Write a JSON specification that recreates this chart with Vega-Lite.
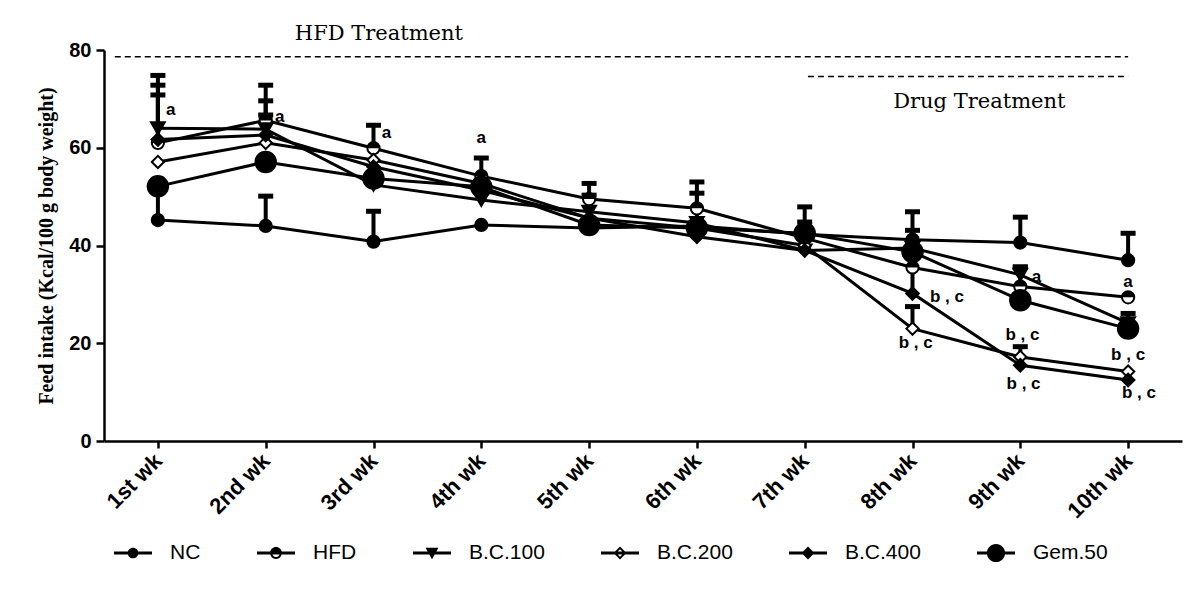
{
  "$schema": "https://vega.github.io/schema/vega-lite/v6.json",
  "autosize": {"type": "none"},
  "width": 1078,
  "height": 391,
  "padding": {"left": 104, "top": 50, "right": 18, "bottom": 150},
  "background": "white",
  "config": {
    "view": {"stroke": null},
    "axis": {"grid": false, "domainColor": "black", "tickColor": "black", "domainWidth": 2.5, "tickWidth": 2.5, "labelColor": "black", "titleColor": "black"}
  },
  "datasets": {
    "main": [
      {"week": 1, "group": "NC", "value": 45.2, "upper": 52.0},
      {"week": 2, "group": "NC", "value": 44.0, "upper": 50.1},
      {"week": 3, "group": "NC", "value": 40.8, "upper": 47.0},
      {"week": 4, "group": "NC", "value": 44.2, "upper": null},
      {"week": 5, "group": "NC", "value": 43.6, "upper": null},
      {"week": 6, "group": "NC", "value": 44.0, "upper": null},
      {"week": 7, "group": "NC", "value": 42.3, "upper": null},
      {"week": 8, "group": "NC", "value": 41.2, "upper": null},
      {"week": 9, "group": "NC", "value": 40.6, "upper": 45.8},
      {"week": 10, "group": "NC", "value": 37.0, "upper": 42.5},
      {"week": 1, "group": "HFD", "value": 61.0, "upper": 72.8},
      {"week": 2, "group": "HFD", "value": 65.6, "upper": 72.8},
      {"week": 3, "group": "HFD", "value": 59.9, "upper": 64.6},
      {"week": 4, "group": "HFD", "value": 54.2, "upper": 57.9},
      {"week": 5, "group": "HFD", "value": 49.5, "upper": 52.7},
      {"week": 6, "group": "HFD", "value": 47.6, "upper": 53.0},
      {"week": 7, "group": "HFD", "value": 41.5, "upper": 44.8},
      {"week": 8, "group": "HFD", "value": 35.5, "upper": null},
      {"week": 9, "group": "HFD", "value": 31.6, "upper": 35.6},
      {"week": 10, "group": "HFD", "value": 29.4, "upper": null},
      {"week": 1, "group": "B.C.100", "value": 64.0, "upper": 74.8},
      {"week": 2, "group": "B.C.100", "value": 63.8, "upper": 69.6},
      {"week": 3, "group": "B.C.100", "value": 52.4, "upper": null},
      {"week": 4, "group": "B.C.100", "value": 49.3, "upper": null},
      {"week": 5, "group": "B.C.100", "value": 46.9, "upper": 50.3},
      {"week": 6, "group": "B.C.100", "value": 44.6, "upper": 50.7},
      {"week": 7, "group": "B.C.100", "value": 39.0, "upper": null},
      {"week": 8, "group": "B.C.100", "value": 39.5, "upper": 46.9},
      {"week": 9, "group": "B.C.100", "value": 34.0, "upper": 35.6},
      {"week": 10, "group": "B.C.100", "value": 24.1, "upper": 26.1},
      {"week": 1, "group": "B.C.200", "value": 57.1, "upper": null},
      {"week": 2, "group": "B.C.200", "value": 61.0, "upper": null},
      {"week": 3, "group": "B.C.200", "value": 57.5, "upper": null},
      {"week": 4, "group": "B.C.200", "value": 52.7, "upper": null},
      {"week": 5, "group": "B.C.200", "value": 45.6, "upper": null},
      {"week": 6, "group": "B.C.200", "value": 43.6, "upper": null},
      {"week": 7, "group": "B.C.200", "value": 40.0, "upper": null},
      {"week": 8, "group": "B.C.200", "value": 23.0, "upper": 27.5},
      {"week": 9, "group": "B.C.200", "value": 17.2, "upper": 19.3},
      {"week": 10, "group": "B.C.200", "value": 14.2, "upper": null},
      {"week": 1, "group": "B.C.400", "value": 61.7, "upper": 70.8},
      {"week": 2, "group": "B.C.400", "value": 62.6, "upper": 66.7},
      {"week": 3, "group": "B.C.400", "value": 56.1, "upper": null},
      {"week": 4, "group": "B.C.400", "value": 51.3, "upper": null},
      {"week": 5, "group": "B.C.400", "value": 45.6, "upper": null},
      {"week": 6, "group": "B.C.400", "value": 41.8, "upper": null},
      {"week": 7, "group": "B.C.400", "value": 39.0, "upper": null},
      {"week": 8, "group": "B.C.400", "value": 30.2, "upper": 38.5},
      {"week": 9, "group": "B.C.400", "value": 15.5, "upper": null},
      {"week": 10, "group": "B.C.400", "value": 12.5, "upper": null},
      {"week": 1, "group": "Gem.50", "value": 52.1, "upper": null},
      {"week": 2, "group": "Gem.50", "value": 57.1, "upper": null},
      {"week": 3, "group": "Gem.50", "value": 53.7, "upper": null},
      {"week": 4, "group": "Gem.50", "value": 52.0, "upper": null},
      {"week": 5, "group": "Gem.50", "value": 44.2, "upper": null},
      {"week": 6, "group": "Gem.50", "value": 43.6, "upper": null},
      {"week": 7, "group": "Gem.50", "value": 42.5, "upper": 47.9},
      {"week": 8, "group": "Gem.50", "value": 38.7, "upper": 43.1},
      {"week": 9, "group": "Gem.50", "value": 28.8, "upper": null},
      {"week": 10, "group": "Gem.50", "value": 23.0, "upper": null}
    ],
    "notes": [
      {"x": 1.12, "y": 67.7, "label": "a"},
      {"x": 2.13, "y": 66.3, "label": "a"},
      {"x": 3.12, "y": 63.0, "label": "a"},
      {"x": 4.0, "y": 62.0, "label": "a"},
      {"x": 9.15, "y": 33.6, "label": "a"},
      {"x": 10.0, "y": 32.6, "label": "a"},
      {"x": 8.32, "y": 29.4, "label": "b , c"},
      {"x": 8.03, "y": 20.1, "label": "b , c"},
      {"x": 9.02, "y": 21.7, "label": "b , c"},
      {"x": 9.03, "y": 11.6, "label": "b , c"},
      {"x": 10.0, "y": 17.6, "label": "b , c"},
      {"x": 10.1, "y": 9.8, "label": "b , c"}
    ],
    "dash": [
      {"x": 0.6, "x2": 10.0, "y": 78.6},
      {"x": 7.03, "x2": 10.0, "y": 74.6}
    ],
    "titles": [
      {"x": 3.05, "y": 83.2, "label": "HFD Treatment"},
      {"x": 8.62, "y": 69.3, "label": "Drug Treatment"}
    ]
  },
  "layer": [
    {
      "data": {"name": "dash"},
      "mark": {"type": "rule", "strokeDash": [6, 4], "strokeWidth": 1.5, "color": "black"},
      "encoding": {
        "x": {"field": "x", "type": "quantitative", "scale": {"domain": [0.5, 10.5], "nice": false, "zero": false}},
        "x2": {"field": "x2"},
        "y": {"field": "y", "type": "quantitative"}
      }
    },
    {
      "data": {"name": "titles"},
      "mark": {"type": "text", "font": "DejaVu Serif", "fontSize": 21, "color": "black", "align": "center", "baseline": "middle"},
      "encoding": {
        "x": {"field": "x", "type": "quantitative"},
        "y": {"field": "y", "type": "quantitative"},
        "text": {"field": "label"}
      }
    },
    {
      "data": {"name": "main"},
      "mark": {"type": "line", "color": "black", "strokeWidth": 3},
      "encoding": {
        "x": {"field": "week", "type": "quantitative", "scale": {"domain": [0.5, 10.5], "nice": false, "zero": false},
          "axis": {"title": null, "values": [1,2,3,4,5,6,7,8,9,10], "labelExpr": "['','1st wk','2nd wk','3rd wk','4th wk','5th wk','6th wk','7th wk','8th wk','9th wk','10th wk'][datum.value]", "labelAngle": -45, "labelAlign": "right", "labelBaseline": "middle", "labelFont": "Liberation Sans", "labelFontSize": 22, "labelFontWeight": "bold", "tickSize": 7, "labelPadding": 9}},
        "y": {"field": "value", "type": "quantitative", "scale": {"domain": [0, 80], "nice": false},
          "axis": {"title": "Feed intake (Kcal/100 g body weight)", "values": [0, 20, 40, 60, 80], "titleFont": "Liberation Serif", "titleFontSize": 20, "titleFontWeight": "bold", "titlePadding": 12, "labelFont": "Liberation Sans", "labelFontSize": 20, "labelFontWeight": "bold", "tickSize": 8, "labelPadding": 5}},
        "detail": {"field": "group"}
      }
    },
    {
      "data": {"name": "main"},
      "transform": [{"filter": "datum.upper != null"}],
      "mark": {"type": "rule", "color": "black", "strokeWidth": 4},
      "encoding": {
        "x": {"field": "week", "type": "quantitative"},
        "y": {"field": "value", "type": "quantitative"},
        "y2": {"field": "upper"}
      }
    },
    {
      "data": {"name": "main"},
      "transform": [{"filter": "datum.upper != null"}],
      "mark": {"type": "tick", "color": "black", "orient": "horizontal", "size": 15, "thickness": 5, "opacity": 1},
      "encoding": {
        "x": {"field": "week", "type": "quantitative"},
        "y": {"field": "upper", "type": "quantitative"}
      }
    },
    {
      "data": {"name": "main"},
      "mark": {"type": "point", "stroke": "black", "strokeWidth": 2, "opacity": 1},
      "encoding": {
        "x": {"field": "week", "type": "quantitative"},
        "y": {"field": "value", "type": "quantitative"},
        "shape": {"field": "group", "type": "nominal", "legend": null,
          "scale": {"domain": ["NC", "HFD", "B.C.100", "B.C.200", "B.C.400", "Gem.50"], "range": ["circle", "circle", "triangle-down", "diamond", "diamond", "circle"]}},
        "size": {"field": "group", "type": "nominal", "legend": null,
          "scale": {"type": "ordinal", "domain": ["NC", "HFD", "B.C.100", "B.C.200", "B.C.400", "Gem.50"], "range": [150, 150, 190, 150, 160, 420]}},
        "fill": {"field": "group", "type": "nominal", "legend": null,
          "scale": {"domain": ["NC", "HFD", "B.C.100", "B.C.200", "B.C.400", "Gem.50"], "range": ["black", "white", "black", "white", "black", "black"]}}
      }
    },
    {
      "data": {"name": "main"},
      "transform": [{"filter": "datum.group == 'HFD'"}],
      "mark": {"type": "point", "shape": "M-1,0A1,1 0 0 1 1,0Z", "size": 150, "filled": true, "color": "black", "opacity": 1},
      "encoding": {
        "x": {"field": "week", "type": "quantitative"},
        "y": {"field": "value", "type": "quantitative"}
      }
    },
    {
      "data": {"name": "notes"},
      "mark": {"type": "text", "font": "Liberation Sans", "fontSize": 17, "fontWeight": "bold", "color": "black", "align": "center", "baseline": "middle"},
      "encoding": {
        "x": {"field": "x", "type": "quantitative"},
        "y": {"field": "y", "type": "quantitative"},
        "text": {"field": "label"}
      }
    },
    {
      "data": {"name": "main"},
      "mark": {"type": "point", "filled": true, "color": "black", "opacity": 0},
      "encoding": {
        "x": {"field": "week", "type": "quantitative"},
        "y": {"field": "value", "type": "quantitative"},
        "shape": {"field": "group", "type": "nominal",
          "scale": {"domain": ["NC", "HFD", "B.C.100", "B.C.200", "B.C.400", "Gem.50"],
            "range": [
              "M-1,-0.08H1V0.08H-1ZM0.28,0A0.28,0.28 0 1 1 -0.28,0A0.28,0.28 0 1 1 0.28,0Z",
              "M-1,-0.08H1V0.08H-1ZM0.31,0A0.31,0.31 0 1 1 -0.31,0A0.31,0.31 0 1 1 0.31,0ZM0.21,0A0.21,0.21 0 1 0 -0.21,0A0.21,0.21 0 1 0 0.21,0ZM-0.31,0A0.31,0.31 0 0 1 0.31,0Z",
              "M-1,-0.08H1V0.08H-1ZM-0.34,-0.27L0.34,-0.27L0,0.33Z",
              "M-1,-0.08H1V0.08H-1ZM0,-0.34L0.34,0L0,0.34L-0.34,0ZM0,-0.2L-0.2,0L0,0.2L0.2,0Z",
              "M-1,-0.08H1V0.08H-1ZM0,-0.34L0.34,0L0,0.34L-0.34,0Z",
              "M-1,-0.08H1V0.08H-1ZM0.48,0A0.48,0.48 0 1 1 -0.48,0A0.48,0.48 0 1 1 0.48,0Z"
            ]},
          "legend": {"title": null, "orient": "none", "direction": "horizontal", "legendX": 10, "legendY": 484,
            "symbolSize": 1444, "symbolFillColor": "black", "symbolStrokeColor": "black", "symbolStrokeWidth": 0, "symbolOpacity": 1,
            "labelFont": "Liberation Sans", "labelFontSize": 21, "labelColor": "black", "labelOffset": 18, "columnPadding": 56, "labelLimit": 200,
            "encode": {"symbols": {"update": {"fill": {"value": "black"}, "opacity": {"value": 1}}}}}}
      }
    }
  ],
  "resolve": {"scale": {"shape": "independent"}}
}
